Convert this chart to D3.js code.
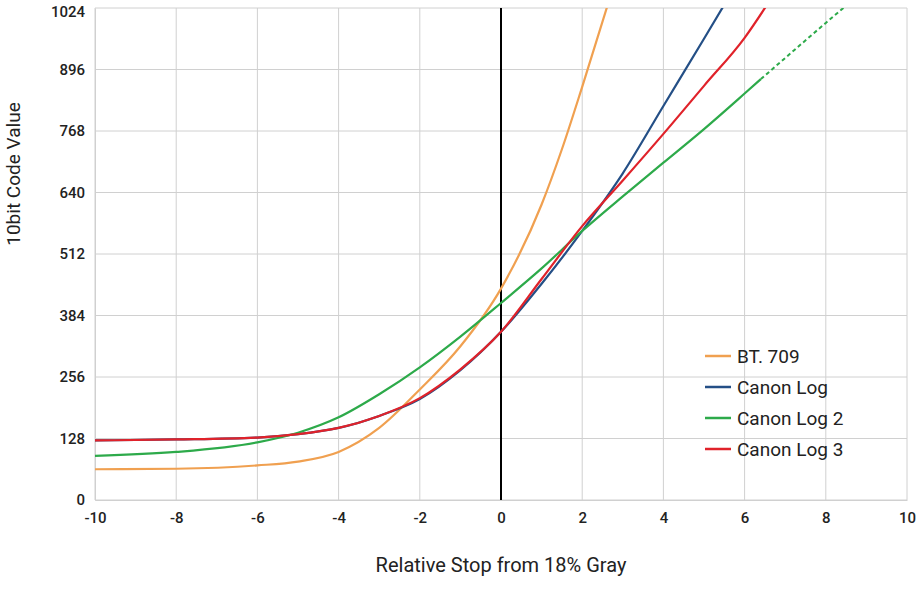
<!DOCTYPE html>
<html><head><meta charset="utf-8">
<script src="https://cdn.jsdelivr.net/npm/d3@7"></script>
<style>body{margin:0;background:#fff}</style>
</head><body><svg></svg>
<script>
const width = 920, height = 600;
const svg = d3.select("svg").attr("width", width).attr("height", height);

// Data
const stops = [-10, -8, -6, -5, -4, -3, -2, -1, 0, 1, 1.5, 2, 2.7];
const bt709 = [64, 65, 72, 80, 100, 150, 230, 320, 440, 615, 730, 860, 1050];
const logStops = [-10, -8, -6, -5, -4, -3, -2, -1, 0, 1, 2, 3, 4, 5, 5.6];
const canonLog = [124, 126, 130, 137, 150, 175, 210, 270, 350, 450, 560, 680, 820, 960, 1045];
const log3Stops = [-10, -8, -6, -5, -4, -3, -2, -1, 0, 1, 2, 3, 4, 5, 6, 6.7];
const canonLog3 = [124, 126, 130, 137, 150, 175, 212, 272, 350, 460, 570, 665, 762, 862, 962, 1050];
const log2Stops = [-10, -8, -6, -5, -4, -3, -2, -1, 0, 1, 2, 3, 4, 5, 6, 6.4];
const canonLog2 = [92, 100, 120, 140, 172, 220, 276, 340, 410, 482, 560, 632, 702, 772, 846, 876];
const log2ExtStops = [6.4, 7, 8, 8.6];
const canonLog2Ext = [876, 920, 993, 1036];
const xTicks = [-10, -8, -6, -4, -2, 0, 2, 4, 6, 8, 10];
const yTicks = [0, 128, 256, 384, 512, 640, 768, 896, 1024];

const series = [
  { name: "BT. 709", color: "#f0a050", xs: stops, ys: bt709 },
  { name: "Canon Log", color: "#244f86", xs: logStops, ys: canonLog },
  { name: "Canon Log 2", color: "#2daa4a", xs: log2Stops, ys: canonLog2 },
  { name: "Canon Log 3", color: "#e0222a", xs: log3Stops, ys: canonLog3 }
];

const x = d3.scaleLinear().domain([-10, 10]).range([95, 907]);
const y = d3.scaleLinear().domain([0, 1024]).range([500, 8]);

// grid
svg.append("g").selectAll("line").data(xTicks).enter().append("line")
  .attr("x1", d => x(d)).attr("x2", d => x(d)).attr("y1", y(0)).attr("y2", y(1024))
  .attr("stroke", "#d0d0d0");
svg.append("g").selectAll("line").data(yTicks).enter().append("line")
  .attr("x1", x(-10)).attr("x2", x(10)).attr("y1", d => y(d)).attr("y2", d => y(d))
  .attr("stroke", "#d0d0d0");

const xAxis = svg.append("g").attr("transform", `translate(0,${y(0)})`)
  .call(d3.axisBottom(x).tickValues(xTicks).tickFormat(d => String(d)).tickSize(0).tickPadding(12));
const yAxis = svg.append("g").attr("transform", `translate(${x(-10)},0)`)
  .call(d3.axisLeft(y).tickValues(yTicks).tickFormat(d => String(d)).tickSize(0).tickPadding(10));
[xAxis, yAxis].forEach(a => {
  a.select(".domain").attr("stroke", "#d0d0d0");
  a.selectAll("text").attr("font-family", "Roboto, sans-serif").attr("font-size", 15)
    .attr("font-weight", 500).attr("fill", "#222");
});
yAxis.selectAll("text").filter(d => d === 1024).attr("dy", "0.55em");

// zero line
svg.append("line").attr("x1", x(0)).attr("x2", x(0)).attr("y1", y(0)).attr("y2", y(1024))
  .attr("stroke", "#000").attr("stroke-width", 2);

const line = d3.line().curve(d3.curveMonotoneX);
svg.append("defs").append("clipPath").attr("id", "clip").append("rect")
  .attr("x", x(-10)).attr("y", y(1024)).attr("width", x(10) - x(-10)).attr("height", y(0) - y(1024));

series.forEach(s => {
  svg.append("path").attr("clip-path", "url(#clip)")
    .attr("d", line(s.xs.map((v, i) => [x(v), y(s.ys[i])])))
    .attr("fill", "none").attr("stroke", s.color).attr("stroke-width", 2.2);
});
svg.append("path").attr("clip-path", "url(#clip)")
  .attr("d", line(log2ExtStops.map((v, i) => [x(v), y(canonLog2Ext[i])])))
  .attr("fill", "none").attr("stroke", "#2daa4a").attr("stroke-width", 2).attr("stroke-dasharray", "4,3");

// legend
const leg = svg.append("g").attr("transform", "translate(705,356)");
series.forEach((s, i) => {
  const g = leg.append("g").attr("transform", `translate(0,${i * 31})`);
  g.append("line").attr("x1", 0).attr("x2", 26).attr("stroke", s.color).attr("stroke-width", 2.5);
  g.append("text").attr("x", 32).attr("y", 7).text(s.name)
    .attr("font-family", "Roboto, sans-serif").attr("font-size", 19).attr("fill", "#222");
});

// axis titles
svg.append("text").attr("x", x(0)).attr("y", 572).attr("text-anchor", "middle")
  .text("Relative Stop from 18% Gray").attr("font-family", "Roboto, sans-serif")
  .attr("font-size", 20).attr("fill", "#222");
svg.append("text").attr("transform", `translate(20,${y(512) - 80}) rotate(-90)`)
  .attr("text-anchor", "middle").text("10bit Code Value")
  .attr("font-family", "Roboto, sans-serif").attr("font-size", 19).attr("fill", "#222");
</script></body></html>
